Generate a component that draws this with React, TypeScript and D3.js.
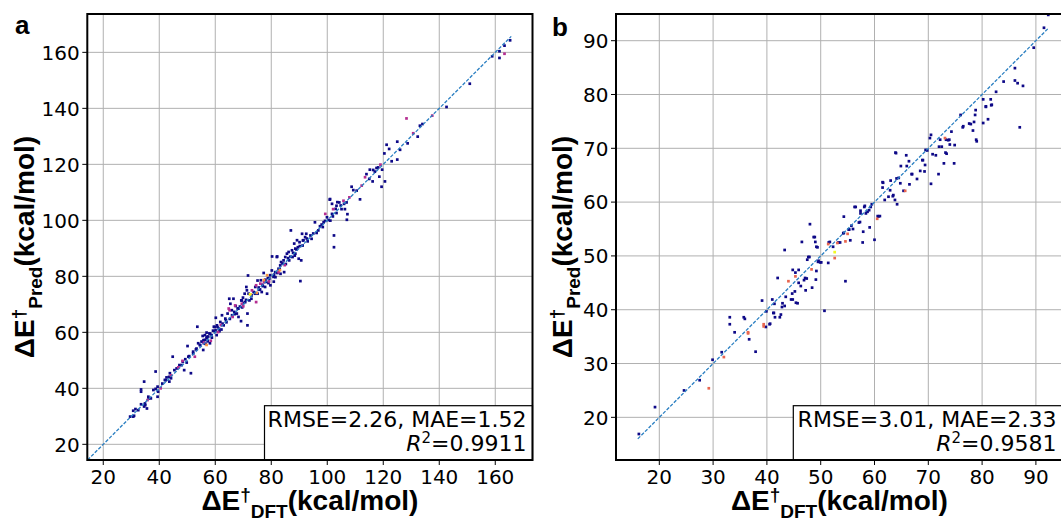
import React from "react";
import * as d3 from "d3";

type P = [number, number];

// ---------- Panel a data ----------
const aTicks = [20, 40, 60, 80, 100, 120, 140, 160];
const aNavy: P[] = [
  [29.6, 29.9], [30.7, 29.9], [31.0, 30.2], [30.7, 32.0], [31.5, 32.6], [32.5, 32.2], [33.5, 34.3], [33.5, 39.6], [33.5, 38.8],
  [34.9, 34.6], [34.6, 33.5], [35.0, 34.0], [35.6, 32.8], [36.1, 37.0], [36.2, 36.4], [37.0, 36.4], [37.9, 39.4], [38.7, 39.8],
  [39.4, 40.6], [39.4, 37.0], [39.6, 38.8], [38.7, 46.0], [34.6, 42.4], [41.1, 41.7], [42.0, 43.0], [42.3, 42.9], [42.6, 43.9],
  [43.5, 44.1], [43.8, 45.4], [44.2, 43.6], [43.6, 42.4], [44.8, 51.3], [45.4, 46.5], [46.2, 47.1], [47.2, 48.3], [48.0, 48.3],
  [48.4, 49.5], [48.9, 46.5], [49.3, 50.4], [49.8, 49.2], [50.4, 51.3], [50.7, 51.5], [50.1, 55.1], [51.3, 45.4], [52.1, 53.1],
  [52.1, 52.4], [53.1, 53.9], [53.3, 54.2], [53.6, 62.0], [53.9, 56.1], [54.5, 55.5], [54.6, 55.4], [55.1, 56.7], [55.7, 53.7],
  [55.8, 57.2], [55.5, 58.7], [55.9, 56.2], [56.3, 57.3], [56.3, 59.0], [56.5, 55.9], [56.9, 57.9], [56.9, 59.9], [57.0, 58.4],
  [57.3, 56.8], [57.5, 58.5], [57.9, 59.6], [58.1, 56.1], [58.2, 59.5], [58.7, 59.0], [58.8, 58.1], [59.2, 60.6], [59.5, 62.0],
  [59.8, 61.9], [59.9, 60.2], [60.1, 60.7], [60.2, 65.2], [60.5, 59.0], [60.6, 62.5], [60.8, 61.9], [61.3, 61.3], [61.5, 60.4],
  [61.8, 63.7], [62.2, 61.0], [62.4, 66.1], [62.6, 63.1], [63.0, 62.5], [63.6, 64.9], [63.8, 64.3], [64.0, 63.6], [64.4, 66.7],
  [65.0, 72.0], [65.2, 64.8], [65.4, 70.2], [65.9, 67.9], [66.0, 66.1], [66.5, 72.0], [66.8, 67.3], [67.0, 66.5], [67.3, 69.4],
  [67.7, 66.7], [68.0, 68.5], [68.3, 68.5], [68.3, 65.5], [68.8, 69.2], [69.2, 64.0], [69.3, 71.4], [69.5, 71.4], [69.6, 68.9],
  [69.9, 72.4], [70.2, 70.5], [70.5, 73.8], [70.7, 70.8], [71.0, 71.6], [71.1, 76.2], [71.3, 75.0], [71.5, 66.7], [71.5, 62.5],
  [71.7, 80.3], [71.9, 73.8], [72.2, 71.4], [72.9, 72.0], [73.0, 73.2], [73.7, 74.4], [74.2, 73.8], [74.3, 76.2], [74.6, 74.0],
  [75.1, 73.8], [75.1, 78.5], [75.5, 76.0], [75.8, 75.2], [76.0, 75.3], [76.3, 78.6], [76.6, 74.4], [76.8, 77.0], [77.0, 76.5],
  [77.3, 81.2], [77.8, 76.2], [77.9, 78.8], [78.2, 78.0], [78.5, 73.8], [78.8, 79.4], [79.0, 77.6], [79.3, 79.2], [79.6, 80.4],
  [79.7, 76.8], [80.2, 82.1], [80.3, 87.1], [80.8, 79.8], [80.9, 78.1], [81.0, 80.6], [81.4, 81.5], [81.5, 79.7], [82.0, 86.9],
  [82.1, 87.1], [82.2, 81.2], [82.6, 82.7], [83.0, 82.5], [83.2, 83.9], [83.3, 80.9], [83.5, 85.1], [84.0, 84.6], [84.4, 85.7],
  [84.6, 81.5], [85.0, 86.9], [85.2, 84.4], [85.6, 88.1], [86.0, 86.5], [86.2, 88.7], [86.4, 85.7], [86.8, 87.0], [87.0, 96.4],
  [87.4, 89.3], [87.6, 86.9], [87.8, 88.4], [88.2, 91.7], [88.4, 87.4], [88.6, 89.9], [88.6, 88.1], [89.0, 89.6], [89.2, 92.9],
  [89.5, 90.4], [89.8, 86.3], [90.1, 92.2], [90.2, 90.8], [90.4, 78.3], [90.7, 85.7], [91.0, 95.2], [91.2, 91.0], [91.3, 92.8],
  [91.5, 92.9], [92.1, 94.0], [92.5, 95.2], [92.7, 93.5], [93.0, 92.5], [94.0, 94.6], [94.4, 93.4], [95.0, 95.3], [95.6, 99.3],
  [96.2, 95.5], [96.8, 96.4], [97.4, 97.9], [98.0, 98.5], [98.4, 97.6], [98.7, 99.3], [99.2, 99.8], [99.9, 101.1], [100.4, 100.1],
  [100.9, 107.4], [101.0, 107.6], [101.1, 99.9], [101.7, 102.3], [101.7, 105.9], [102.0, 101.4], [102.4, 94.6], [102.4, 90.4],
  [103.0, 104.1], [103.3, 102.6], [103.3, 105.2], [103.6, 106.5], [104.3, 106.4], [104.8, 105.3], [105.1, 104.0], [106.0, 105.9],
  [106.3, 104.0], [106.9, 106.4], [107.0, 100.2], [107.2, 102.2], [108.7, 112.0], [109.3, 110.8], [110.5, 110.6], [111.7, 107.5],
  [114.0, 116.5], [115.0, 114.8], [115.2, 118.1], [116.2, 113.9], [116.4, 118.0], [117.0, 117.4], [117.6, 118.7], [118.2, 118.9],
  [118.6, 115.6], [119.4, 112.0], [119.6, 118.1], [120.6, 113.9], [120.4, 123.9], [121.2, 127.0], [122.1, 125.5], [123.0, 121.1],
  [125.0, 128.1], [125.0, 121.7], [126.0, 125.2], [128.7, 127.5], [132.3, 129.9], [133.1, 133.8], [134.0, 134.4], [142.6, 140.5],
  [150.9, 148.8], [158.9, 158.6], [161.5, 158.0], [161.5, 160.4], [163.3, 162.4], [165.3, 164.3],
];
const aMagenta: P[] = [
  [35.8, 35.8], [40.5, 40.0], [44.2, 44.6], [46.8, 47.5], [48.3, 49.8], [52.7, 51.3], [56.0, 56.3], [58.4, 57.0], [61.0, 60.1],
  [62.0, 62.6], [64.8, 68.5], [65.1, 67.9], [66.2, 65.5], [67.1, 69.6], [69.5, 70.2], [70.0, 69.3], [73.1, 75.0], [74.6, 76.8],
  [74.6, 70.8], [76.1, 77.4], [77.4, 77.9], [79.2, 78.2], [82.6, 81.5], [84.8, 84.0], [99.3, 102.3], [102.1, 104.0], [105.8, 107.0],
  [107.9, 108.2], [112.3, 112.4], [113.5, 115.4], [119.0, 119.9], [128.3, 136.4], [130.7, 131.1], [137.5, 137.4], [163.3, 159.5],
];
const aOrange: P[] = [[56.9, 55.5], [72.7, 73.5], [74.8, 74.1], [77.4, 78.7], [78.5, 80.4], [83.1, 82.2]];
const aYellow: P[] = [[72.4, 73.6]];

// ---------- Panel b data ----------
const bTicks = [20, 30, 40, 50, 60, 70, 80, 90];
const bNavy: P[] = [
  [16.2, 16.9], [19.2, 21.9], [24.6, 25.0], [27.5, 26.9], [29.9, 30.7], [31.6, 32.1], [33.1, 38.6], [33.1, 37.3], [34.0, 35.8],
  [35.7, 38.6], [35.9, 38.3], [36.7, 34.5], [37.9, 32.2], [39.1, 41.7], [39.8, 36.8], [39.9, 39.7], [40.5, 37.3], [40.6, 37.4],
  [41.0, 41.9], [41.4, 41.1], [41.2, 39.4], [41.3, 39.4], [41.5, 38.6], [42.0, 45.9], [42.4, 38.6], [42.6, 39.1], [42.8, 40.5],
  [42.9, 41.2], [43.3, 51.1], [43.3, 40.7], [43.5, 42.4], [44.5, 41.9], [44.7, 43.0], [44.8, 47.4], [44.8, 41.9], [45.2, 43.4],
  [45.3, 46.9], [45.4, 41.3], [45.7, 41.2], [45.9, 45.0], [45.9, 47.4], [46.3, 44.4], [46.5, 52.6], [46.9, 45.5], [47.1, 45.9],
  [47.2, 43.6], [47.4, 45.8], [47.5, 49.3], [47.7, 49.8], [47.9, 49.8], [48.0, 55.9], [48.4, 44.1], [48.7, 53.5], [48.9, 53.5],
  [49.0, 52.6], [49.1, 45.6], [49.2, 47.2], [49.2, 51.7], [49.4, 51.6], [49.5, 48.9], [49.6, 49.1], [49.9, 48.8], [50.1, 48.8],
  [50.7, 39.8], [51.4, 48.7], [51.5, 52.5], [51.7, 52.6], [52.3, 51.7], [53.3, 52.5], [53.6, 52.5], [54.2, 54.2], [54.3, 54.3],
  [54.3, 57.3], [54.6, 45.3], [55.2, 54.9], [55.3, 54.9], [55.5, 52.9], [55.7, 55.6], [56.0, 55.0], [56.3, 59.1], [56.5, 59.1],
  [57.1, 56.2], [57.3, 56.3], [57.4, 57.9], [57.4, 58.4], [57.8, 52.5], [57.9, 54.5], [58.1, 59.1], [58.2, 59.3], [58.4, 57.9],
  [58.7, 58.2], [59.0, 58.5], [59.1, 55.3], [59.3, 59.1], [59.5, 59.6], [60.0, 53.0], [60.6, 57.4], [60.7, 57.3], [61.0, 57.4],
  [61.5, 62.7], [61.5, 63.7], [61.6, 63.6], [61.9, 60.4], [62.6, 61.0], [62.9, 62.2], [63.0, 64.0], [63.4, 61.1], [63.5, 61.3],
  [63.8, 60.4], [63.9, 69.2], [64.0, 69.1], [64.1, 64.4], [64.2, 59.6], [64.5, 64.5], [64.8, 63.5], [64.9, 66.7], [65.4, 62.1],
  [65.9, 68.7], [66.0, 66.7], [66.4, 67.6], [66.5, 63.3], [66.9, 65.2], [67.0, 65.2], [67.9, 64.3], [68.5, 65.8], [68.9, 67.8],
  [69.0, 67.8], [69.3, 65.7], [69.4, 66.9], [69.5, 69.7], [69.8, 69.6], [70.3, 71.9], [70.5, 72.5], [70.5, 63.4], [70.8, 68.9],
  [71.4, 68.7], [71.9, 65.2], [72.0, 70.3], [72.2, 71.6], [72.5, 70.3], [72.9, 67.2], [73.2, 69.2], [73.3, 71.6], [73.4, 69.0],
  [73.7, 71.5], [73.9, 71.6], [74.0, 70.7], [74.3, 73.1], [74.8, 67.2], [74.9, 70.6], [76.0, 76.2], [76.4, 73.9], [76.5, 74.1],
  [77.6, 74.6], [77.9, 74.5], [78.3, 73.3], [78.5, 74.9], [78.7, 76.2], [78.8, 77.1], [78.9, 71.6], [79.0, 71.3], [80.2, 74.7],
  [80.2, 79.1], [80.7, 77.7], [80.7, 77.8], [81.1, 75.4], [81.6, 79.1], [81.7, 78.0], [81.8, 78.1], [82.6, 80.5], [84.0, 82.4],
  [86.1, 84.9], [86.1, 82.6], [86.6, 82.1], [87.0, 73.9], [87.6, 81.6], [89.6, 88.7], [91.5, 92.4], [92.3, 94.8],
];
const bSalmon: P[] = [
  [29.2, 25.4], [32.0, 31.2], [36.5, 35.8], [36.5, 35.6], [39.4, 37.3], [39.4, 36.9], [44.0, 45.3], [45.3, 46.2], [48.3, 47.5],
  [51.4, 52.2], [52.6, 49.6], [53.1, 52.4], [54.6, 52.7], [55.0, 54.1], [60.5, 56.9], [65.7, 62.1], [73.1, 71.9],
];
const bYellow: P[] = [[52.6, 50.7]];

const NAVY = "#0d0887";
const MAGENTA = "#b52d91";
const ORANGE = "#f89540";
const SALMON = "#e8664f";
const YELLOW = "#f0f921";

interface PanelCfg {
  left: number; right: number; top: number; bottom: number;
  xDom: [number, number]; yDom: [number, number];
  ticks: number[];
  diag: [number, number];
  groups: { pts: P[]; color: string }[];
  letter: string; letterX: number; letterY: number;
  yLabelX: number;
  rmse: string; r2: string;
  legLeft: number; legTextRight: number;
}

const FS_TICK = 20;
const SANS = "'DejaVu Sans', sans-serif";
const BOLD = "'Liberation Sans', Arial, Helvetica, sans-serif";

function AxisLabel({ x, y, rotate, sub }: { x: number; y: number; rotate: number; sub: string }) {
  return (
    <text
      transform={`translate(${x},${y}) rotate(${rotate})`}
      textAnchor="middle"
      fontFamily={BOLD}
      fontWeight="bold"
      fontSize={28}
      fill="#000"
    >
      ΔE
      <tspan fontSize={19} dy={-9}>†</tspan>
      <tspan fontSize={19} dy={17}>{sub}</tspan>
      <tspan fontSize={28} dy={-8}>(kcal/mol)</tspan>
    </text>
  );
}

function Panel({ c }: { c: PanelCfg }) {
  const x = d3.scaleLinear().domain(c.xDom).range([c.left, c.right]);
  const y = d3.scaleLinear().domain(c.yDom).range([c.bottom, c.top]);
  const ms = 2.7;
  const line = d3.line<number>().x((d) => x(d)).y((d) => y(d));
  const clipId = `clip-${c.letter}`;
  return (
    <g>
      <defs>
        <clipPath id={clipId}>
          <rect x={c.left} y={c.top} width={c.right - c.left} height={c.bottom - c.top} />
        </clipPath>
      </defs>
      <rect x={c.left} y={c.top} width={c.right - c.left} height={c.bottom - c.top} fill="#fff" />
      {/* grid */}
      <g stroke="#b0b0b0" strokeWidth={1}>
        {c.ticks.map((t) => (
          <line key={"gx" + t} x1={x(t)} x2={x(t)} y1={c.top} y2={c.bottom} />
        ))}
        {c.ticks.map((t) => (
          <line key={"gy" + t} x1={c.left} x2={c.right} y1={y(t)} y2={y(t)} />
        ))}
      </g>
      {/* points */}
      <g clipPath={`url(#${clipId})`}>
        {c.groups.map((g, gi) =>
          g.pts.map((p, i) => (
            <rect key={gi + "-" + i} x={x(p[0]) - ms / 2} y={y(p[1]) - ms / 2} width={ms} height={ms} fill={g.color} />
          ))
        )}
        <path d={line(c.diag) || ""} fill="none" stroke="#2a7fc2" strokeWidth={1.3} strokeDasharray="3.5,1.6" />
      </g>
      {/* legend */}
      <rect
        x={c.legLeft}
        y={405.7}
        width={c.right - c.legLeft}
        height={c.bottom - 405.7}
        fill="#fff"
        stroke="#000"
        strokeWidth={1.2}
      />
      <text x={c.legTextRight} y={427} textAnchor="end" fontFamily={SANS} fontSize={22} fill="#000">
        {c.rmse}
      </text>
      <text x={c.legTextRight} y={450.5} textAnchor="end" fontFamily={SANS} fontSize={22} fill="#000">
        <tspan fontStyle="italic">R</tspan>
        <tspan fontSize={15} dy={-8}>2</tspan>
        <tspan dy={8}>{c.r2}</tspan>
      </text>
      {/* frame */}
      <rect
        x={c.left}
        y={c.top}
        width={c.right - c.left}
        height={c.bottom - c.top}
        fill="none"
        stroke="#000"
        strokeWidth={2}
      />
      {/* ticks */}
      <g stroke="#000" strokeWidth={1}>
        {c.ticks.map((t) => (
          <line key={"tx" + t} x1={x(t)} x2={x(t)} y1={c.bottom} y2={c.bottom + 5} />
        ))}
        {c.ticks.map((t) => (
          <line key={"ty" + t} x1={c.left - 5} x2={c.left} y1={y(t)} y2={y(t)} />
        ))}
      </g>
      <g fontFamily={SANS} fontSize={FS_TICK} fill="#000">
        {c.ticks.map((t) => (
          <text key={"lx" + t} x={x(t)} y={483.5} textAnchor="middle">
            {t}
          </text>
        ))}
        {c.ticks.map((t) => (
          <text key={"ly" + t} x={c.left - 7.5} y={y(t) + 7.3} textAnchor="end">
            {t}
          </text>
        ))}
      </g>
      <AxisLabel x={(c.left + c.right) / 2} y={510} rotate={0} sub="DFT" />
      <AxisLabel x={c.yLabelX} y={247} rotate={-90} sub="Pred" />
      <text x={c.letterX} y={c.letterY} fontFamily={BOLD} fontWeight="bold" fontSize={26} fill="#000">
        {c.letter}
      </text>
    </g>
  );
}

const panelA: PanelCfg = {
  left: 87.3, right: 532.5, top: 14, bottom: 460,
  xDom: [14.3, 173.3], yDom: [14.4, 173.7],
  ticks: aTicks,
  diag: [14.4, 165.7],
  groups: [
    { pts: aNavy, color: NAVY },
    { pts: aMagenta, color: MAGENTA },
    { pts: aOrange, color: ORANGE },
    { pts: aYellow, color: YELLOW },
  ],
  letter: "a", letterX: 15, letterY: 34,
  yLabelX: 34,
  rmse: "RMSE=2.26, MAE=1.52", r2: "=0.9911",
  legLeft: 264.5, legTextRight: 526.5,
};

const panelB: PanelCfg = {
  left: 616, right: 1062.8, top: 14, bottom: 460,
  xDom: [11.95, 95.0], yDom: [12.07, 94.96],
  ticks: bTicks,
  diag: [16.0, 92.4],
  groups: [
    { pts: bNavy, color: NAVY },
    { pts: bSalmon, color: SALMON },
    { pts: bYellow, color: YELLOW },
  ],
  letter: "b", letterX: 552, letterY: 36,
  yLabelX: 571.5,
  rmse: "RMSE=3.01, MAE=2.33", r2: "=0.9581",
  legLeft: 793.3, legTextRight: 1056.5,
};

export default function App() {
  return (
    <svg
      width={1061}
      height={521}
      viewBox="0 0 1061 521"
      style={{ position: "absolute", left: 0, top: 0, background: "#fff" }}
    >
      <rect x={0} y={0} width={1061} height={521} fill="#fff" />
      <Panel c={panelA} />
      <Panel c={panelB} />
    </svg>
  );
}
